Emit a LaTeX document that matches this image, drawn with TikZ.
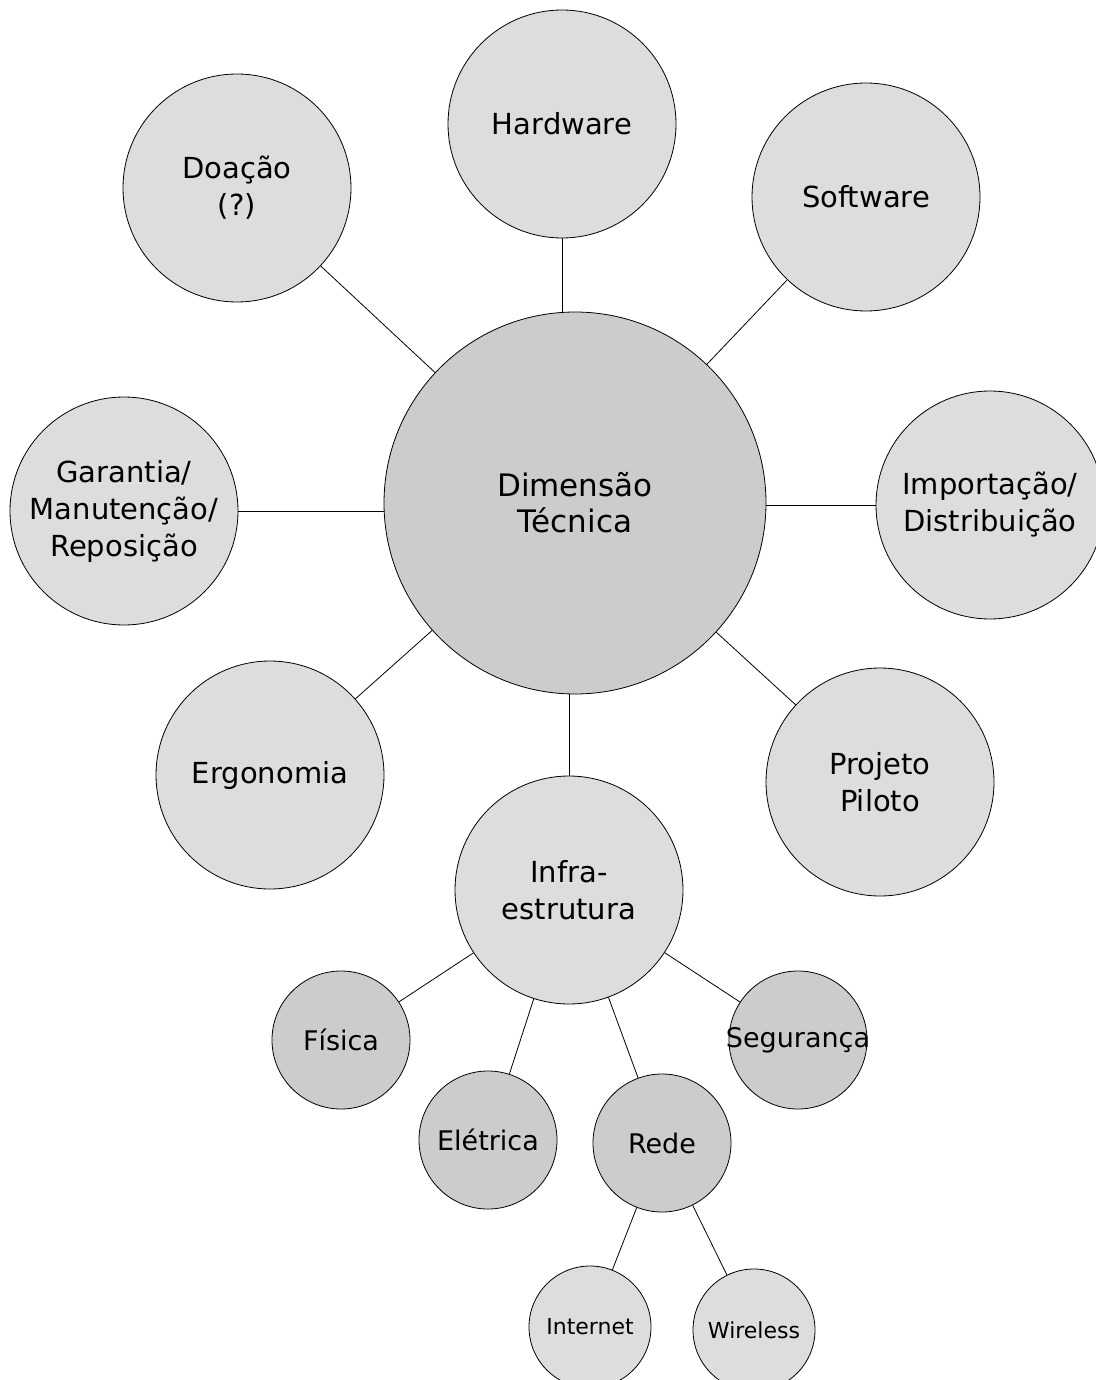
\documentclass[tikz,border=0pt]{standalone}
\usepackage{fontspec}
\setmainfont{DejaVu Sans}
\definecolor{hubgray}{HTML}{CCCCCC}
\definecolor{topicgray}{HTML}{DDDDDD}
\tikzset{
	hub/.style={
		circle,
		draw,
		fill=hubgray,
		inner sep=0pt,
		minimum size=191pt,
		align=center,
		font=\fontsize{15.5}{18}\selectfont,
	},
	topic/.style={
		circle,
		draw,
		fill=topicgray,
		inner sep=0pt,
		minimum size=114pt,
		align=center,
		font=\fontsize{14.5}{18.5}\selectfont,
	},
	part/.style={
		circle,
		draw,
		fill=hubgray,
		inner sep=0pt,
		minimum size=69pt,
		align=center,
		font=\fontsize{13.5}{16}\selectfont,
	},
	leaf/.style={
		circle,
		draw,
		fill=topicgray,
		inner sep=0pt,
		minimum size=61pt,
		font=\fontsize{11}{13}\selectfont,
	},
}

\begin{document}
\begin{tikzpicture}[x=0.5pt, y=-0.5pt, thin]
		\useasboundingbox (0,0) rectangle (1096,1380);
		% Place nodes
		\node [hub] (dim) at (575,503) {Dimensão\\Técnica};
		
		\node [topic] (hw) at (562,124) {Hardware};
		\node [topic] (sw) at (866,197) {Software};
		\node [topic] (doa) at (237,188) {Doação\\(?)};
		\node [topic] (imp) at (990,505) {Importação/\\Distribuição};
		\node [topic] (gar) at (124,511) {Garantia/\\Manutenção/\\Reposição};
		\node [topic] (erg) at (270,775) {Ergonomia};
		\node [topic] (pp) at (880,782) {Projeto\\Piloto};
		\node [topic] (infra) at (569,890) {Infra-\\estrutura};
		
		\draw (hw.south) to (hw.south |- dim.north);
		\draw (sw) to (dim);
		\draw (doa) to (dim);
		\draw (imp.west) to (imp.west -| dim.east);
		\draw (gar.east) to (gar.east -| dim.west);
		\draw (erg) to (dim);
		\draw (pp) to (dim);
		\draw (infra.north) to (infra.north |- dim.south);
		
		\node [part] (fis) at (341,1040) {Física};
		\node [part] (ele) at (488,1140) {Elétrica};
		\node [part] (rede) at (662,1143) {Rede};
		\node [part] (seg) at (798,1040) {\makebox[0pt]{Segurança}};
		
		\draw (infra) to (fis);
		\draw (infra) to (ele);
		\draw (infra) to (rede);
		\draw (infra) to (seg);
		
		\node [leaf] (inet) at (590,1327) {Internet};
		\node [leaf] (wire) at (754,1330) {Wireless};
		
		\draw (rede) to (inet);
		\draw (rede) to (wire);

	\end{tikzpicture}
\end{document}
